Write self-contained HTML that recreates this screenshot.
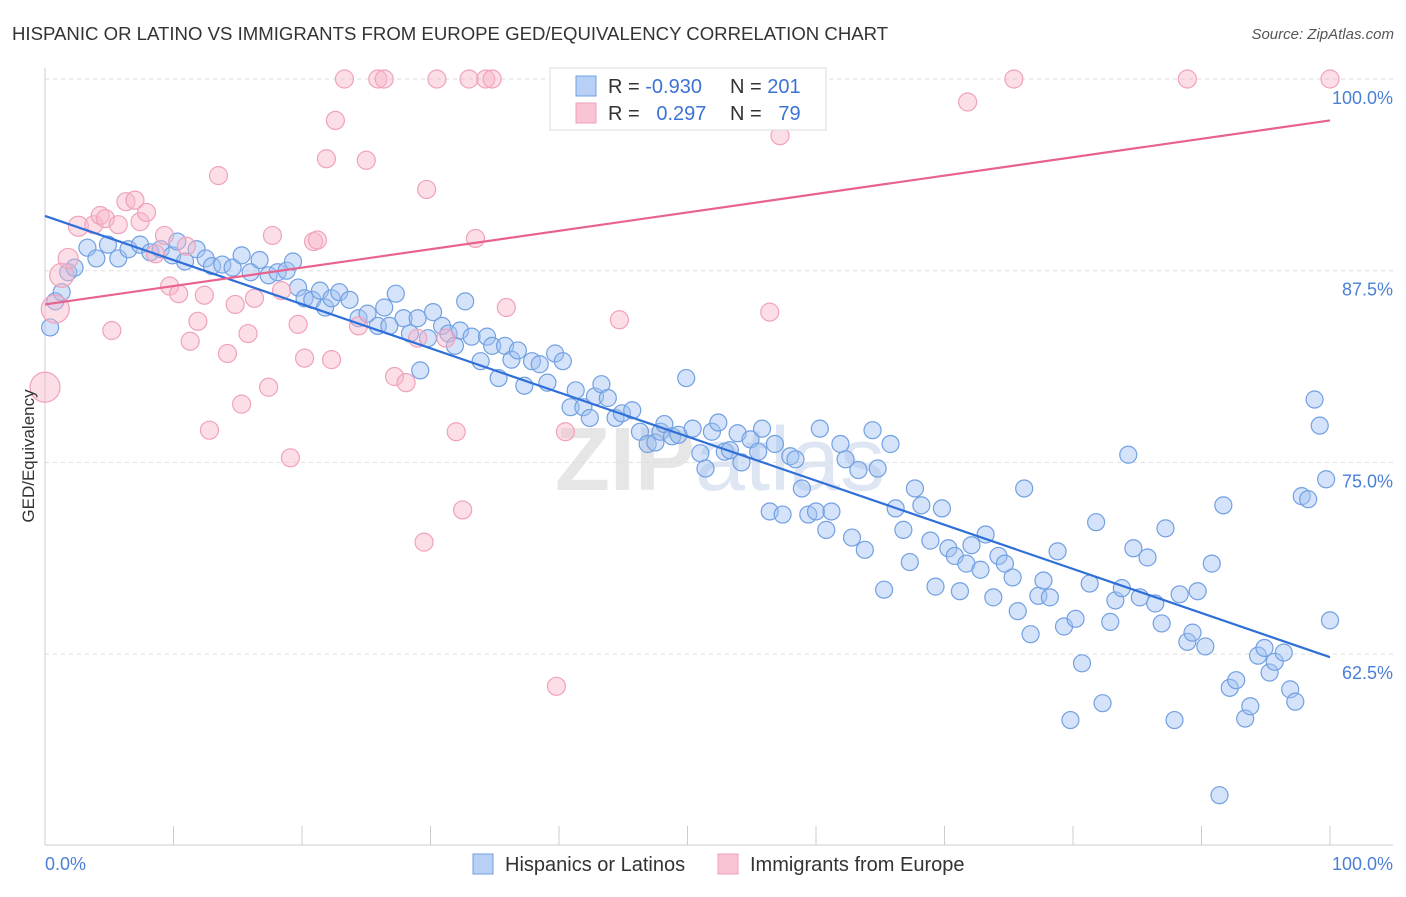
<!DOCTYPE html>
<html><head><meta charset="utf-8"><style>
body{margin:0;background:#fff;font-family:"Liberation Sans",sans-serif;}
svg text{font-family:"Liberation Sans",sans-serif;}
</style></head><body>
<svg id="chart" width="1406" height="892" xmlns="http://www.w3.org/2000/svg">
<text x="12" y="40" font-size="18.6" fill="#333">HISPANIC OR LATINO VS IMMIGRANTS FROM EUROPE GED/EQUIVALENCY CORRELATION CHART</text>
<text x="1394" y="39" font-size="15" fill="#555" font-style="italic" text-anchor="end">Source: ZipAtlas.com</text>
<text x="720" y="490" font-size="90" fill="#e6e6e6" text-anchor="middle" font-weight="bold">ZIP<tspan font-weight="normal" fill="#dde6f2">atlas</tspan></text>
<g id="grid"></g><g id="axes"></g><g id="marks"></g><g id="lines"></g>
<text x="34" y="456" font-size="17" fill="#333" text-anchor="middle" transform="rotate(-90 34 456)">GED/Equivalency</text>
<text x="45" y="870" font-size="18" fill="#4a7fd6">0.0%</text>
<text x="1393" y="870" font-size="18" fill="#4a7fd6" text-anchor="end">100.0%</text>
<g>
<rect x="550" y="68" width="276" height="62" fill="#fff" stroke="#ddd"/>
<rect x="576" y="76" width="20" height="20" fill="#b8d0f6" stroke="#6f9fe0"/>
<rect x="576" y="103" width="20" height="20" fill="#f9c4d3" stroke="#f0a0b8"/>
<text x="608" y="93" font-size="20" fill="#333">R = <tspan fill="#3b73d6">-0.930</tspan></text>
<text x="730" y="93" font-size="20" fill="#333">N = <tspan fill="#3b73d6">201</tspan></text>
<text x="608" y="120" font-size="20" fill="#333">R = <tspan fill="#3b73d6">&#160;&#160;0.297</tspan></text>
<text x="730" y="120" font-size="20" fill="#333">N = <tspan fill="#3b73d6">&#160;&#160;79</tspan></text>
</g>
<g>
<rect x="473" y="854" width="20" height="20" fill="#b8d0f6" stroke="#6f9fe0"/>
<text x="505" y="871" font-size="20" fill="#333">Hispanics or Latinos</text>
<rect x="718" y="854" width="20" height="20" fill="#f9c4d3" stroke="#f0a0b8"/>
<text x="750" y="871" font-size="20" fill="#333">Immigrants from Europe</text>
</g>
</svg>
<script>
const yTicks=[100,87.5,75,62.5];
const yTickLabels=["100.0%","87.5%","75.0%","62.5%"];
const xTicks=[0,10,20,30,40,50,60,70,80,90,100];
const blueX=[0.4,0.8,1.3,1.8,2.3,3.3,4.0,4.9,5.7,6.5,7.4,8.2,9.0,9.9,10.3,10.9,11.8,12.5,13.0,13.8,14.6,15.3,16.0,16.7,17.4,18.1,18.8,19.3,19.7,20.2,20.8,21.4,21.8,22.3,22.9,23.7,24.4,25.1,25.9,26.4,26.8,27.3,27.9,28.4,29.0,29.2,29.8,30.2,30.9,31.4,31.9,32.3,32.7,33.2,33.9,34.4,34.8,35.3,35.8,36.3,36.8,37.3,37.9,38.5,39.1,39.7,40.3,40.9,41.3,41.9,42.4,42.8,43.3,43.8,44.4,44.9,45.7,46.3,46.9,47.5,47.9,48.2,48.8,49.3,49.9,50.4,51.0,51.4,51.9,52.4,52.9,53.3,53.9,54.2,54.9,55.5,55.8,56.4,56.8,57.4,58.0,58.4,58.9,59.4,60.0,60.3,60.8,61.2,61.9,62.3,62.8,63.3,63.8,64.4,64.8,65.3,65.8,66.2,66.8,67.3,67.7,68.2,68.9,69.3,69.8,70.3,70.8,71.2,71.7,72.1,72.8,73.2,73.8,74.2,74.7,75.3,75.7,76.2,76.7,77.3,77.7,78.2,78.8,79.3,79.8,80.2,80.7,81.3,81.8,82.3,82.9,83.3,83.8,84.3,84.7,85.2,85.8,86.4,86.9,87.2,87.9,88.3,88.9,89.3,89.7,90.3,90.8,91.4,91.7,92.2,92.7,93.4,93.8,94.4,94.9,95.3,95.7,96.4,96.9,97.3,97.8,98.3,98.8,99.2,99.7,100];
const blueY=[83.8,85.5,86.1,87.4,87.7,89.0,88.3,89.2,88.3,88.9,89.2,88.7,88.9,88.5,89.4,88.1,88.9,88.3,87.8,87.9,87.7,88.5,87.4,88.2,87.2,87.4,87.5,88.1,86.4,85.7,85.6,86.2,85.1,85.7,86.1,85.6,84.4,84.7,83.9,85.1,83.9,86.0,84.4,83.4,84.4,81.0,83.1,84.8,83.9,83.4,82.6,83.6,85.5,83.2,81.6,83.2,82.6,80.5,82.6,81.7,82.3,80.0,81.6,81.4,80.2,82.1,81.6,78.6,79.7,78.6,77.9,79.3,80.1,79.2,77.9,78.2,78.4,77.0,76.2,76.3,77.0,77.5,76.7,76.8,80.5,77.2,75.6,74.6,77.0,77.6,75.7,75.8,76.9,75.0,76.5,75.7,77.2,71.8,76.2,71.6,75.4,75.2,73.3,71.6,71.8,77.2,70.6,71.8,76.2,75.2,70.1,74.5,69.3,77.1,74.6,66.7,76.2,72.0,70.6,68.5,73.3,72.2,69.9,66.9,72.0,69.4,68.9,66.6,68.4,69.6,68.0,70.3,66.2,68.9,68.4,67.5,65.3,73.3,63.8,66.3,67.3,66.2,69.2,64.3,58.2,64.8,61.9,67.1,71.1,59.3,64.6,66.0,66.8,75.5,69.4,66.2,68.8,65.8,64.5,70.7,58.2,66.4,63.3,63.9,66.6,63.0,68.4,53.3,72.2,60.3,60.8,58.3,59.1,62.4,62.9,61.3,62.0,62.6,60.2,59.4,72.8,72.6,79.1,77.4,73.9,64.7];
const pinkX=[0,0.8,1.3,1.8,2.6,3.8,4.3,4.7,5.2,5.7,6.3,7.0,7.4,7.9,8.6,9.3,9.7,10.4,11.0,11.3,11.9,12.4,12.8,13.5,14.2,14.8,15.3,15.8,16.3,17.4,17.7,18.4,19.1,19.7,20.2,20.9,21.2,21.9,22.3,22.6,23.3,24.4,25.0,25.9,26.4,27.2,28.1,29.0,29.7,30.5,31.2,32.0,32.5,33.0,33.5,34.3,34.8,35.9,39.8,40.5,44.7,47.5,47.8,56.4,57.2,71.8,75.4,88.9,100,29.5];
const pinkY=[79.9,85.0,87.2,88.3,90.4,90.5,91.1,90.9,83.6,90.5,92.0,92.1,90.7,91.3,88.6,89.8,86.5,86.0,89.1,82.9,84.2,85.9,77.1,93.7,82.1,85.3,78.8,83.4,85.7,79.9,89.8,86.2,75.3,84.0,81.8,89.4,89.5,94.8,81.7,97.3,100,83.9,94.7,100,100,80.6,80.2,83.1,92.8,100,83.1,77.0,71.9,100,89.6,100,100,85.1,60.4,77.0,84.3,100,100,84.8,96.3,98.5,100,100,100,69.8];
const pinkR=[15,14,12,10,10,9,9,9,9,9,9,9,9,9,9,9,9,9,9,9,9,9,9,9,9,9,9,9,9,9,9,9,9,9,9,9,9,9,9,9,9,9,9,9,9,9,9,9,9,9,9,9,9,9,9,9,9,9,9,9,9,9,9,9,9,9,9,9,9,9];
const blueLine=[91.07,62.3];
const pinkLine=[85.3,97.3];
const NS="http://www.w3.org/2000/svg";
const X=v=>45+v*12.85;
const Y=v=>79+(100-v)*15.336;
function mk(t,a,p){const e=document.createElementNS(NS,t);for(const k in a)e.setAttribute(k,a[k]);p.appendChild(e);return e;}
const grid=document.getElementById('grid'),axes=document.getElementById('axes'),marks=document.getElementById('marks'),lines=document.getElementById('lines');
yTicks.forEach((t,i)=>{
 const l=mk('line',{x1:45,x2:1393,y1:Y(t),y2:Y(t),stroke:'#ddd','stroke-dasharray':'4 4'},grid);
 
 
 const tx=mk('text',{x:1393,y:Y(t)+25,'font-size':18,fill:'#4a7fd6','text-anchor':'end'},grid);
 tx.textContent=yTickLabels[i];
 
 
});
let ax=mk('line',{x1:45,x2:45,y1:68,y2:845,stroke:'#ccc'},axes);


ax=mk('line',{x1:45,x2:1393,y1:845,y2:845,stroke:'#ccc'},axes);


xTicks.forEach(t=>{const l=mk('line',{x1:X(t),x2:X(t),y1:826,y2:845,stroke:'#ccc'},axes);
 
 });
blueX.forEach((x,i)=>{const c=mk('circle',{cx:X(x),cy:Y(blueY[i]),r:8.5,fill:'rgba(160,192,242,0.45)',stroke:'#72a0e2','stroke-width':1.2},marks);
 
 });
pinkX.forEach((x,i)=>{const c=mk('circle',{cx:X(x),cy:Y(pinkY[i]),r:pinkR[i],fill:'rgba(248,182,202,0.45)',stroke:'#f0a2ba','stroke-width':1.2},marks);
 
 });
let rl=mk('line',{x1:X(0),y1:Y(blueLine[0]),x2:X(100),y2:Y(blueLine[1]),stroke:'#2f6fd8','stroke-width':2.2},lines);


rl=mk('line',{x1:X(0),y1:Y(pinkLine[0]),x2:X(100),y2:Y(pinkLine[1]),stroke:'#e8628e','stroke-width':2.2},lines);


const topGrid=mk('line',{x1:45,x2:1393,y1:Y(100),y2:Y(100),stroke:'#ddd','stroke-dasharray':'4 4'},grid);


</script>
</body></html>
